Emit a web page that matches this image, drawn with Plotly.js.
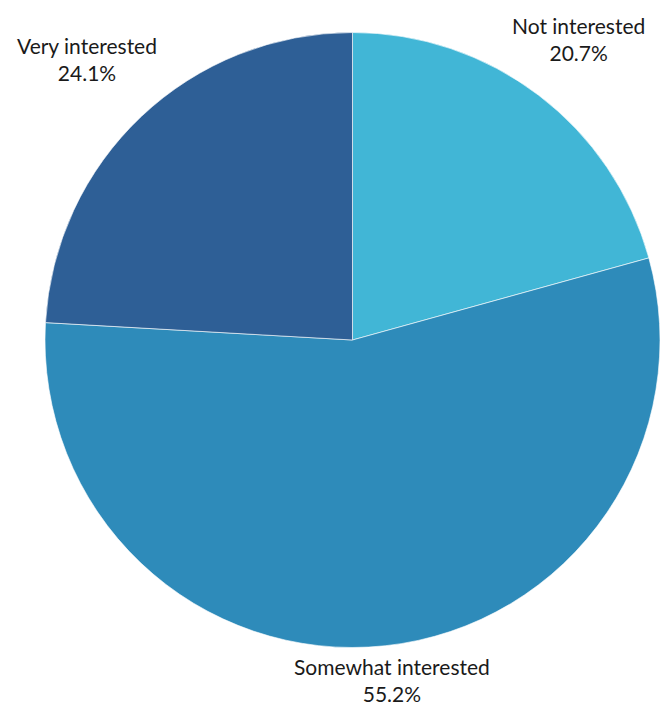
<!DOCTYPE html>
<html>
<head>
<meta charset="utf-8">
<script src="https://cdn.plot.ly/plotly-3.0.1.min.js"></script>
<style>html,body{margin:0;padding:0;background:#fff;overflow:hidden}</style>
</head>
<body>
<div id="chart" style="width:660px;height:707px"></div>
<script>
const categories = ["Not interested", "Somewhat interested", "Very interested"];
const values = [20.7, 55.2, 24.1];
const colors = ["#41b6d6", "#2e8bba", "#2e5f96"];
const labelX = [578, 392, 87];
const labelY = [39, 680, 59];

const W = 660, H = 707;
const annotations = categories.map((c, i) => ({
  x: labelX[i] / W, y: 1 - labelY[i] / H, xref: "paper", yref: "paper",
  text: c + "<br>" + values[i].toFixed(1) + "%",
  showarrow: false, xanchor: "center", yanchor: "middle",
  font: {family: "Lato, 'Liberation Sans', sans-serif", size: 21, color: "#1a1a1a"}
}));

Plotly.newPlot("chart", [{
  type: "pie",
  labels: categories,
  values: values,
  marker: {colors: colors, line: {color: "rgba(255,255,255,0.6)", width: 1}},
  sort: false,
  direction: "clockwise",
  rotation: 0,
  textinfo: "none",
  hoverinfo: "label+percent",
  domain: {x: [45 / W, 1], y: [1 - 648 / H, 1 - 32 / H]}
}], {
  width: W, height: H,
  margin: {l: 0, r: 0, t: 0, b: 0},
  showlegend: false,
  paper_bgcolor: "#ffffff",
  annotations: annotations
}, {displayModeBar: false, staticPlot: true});
</script>
</body>
</html>
